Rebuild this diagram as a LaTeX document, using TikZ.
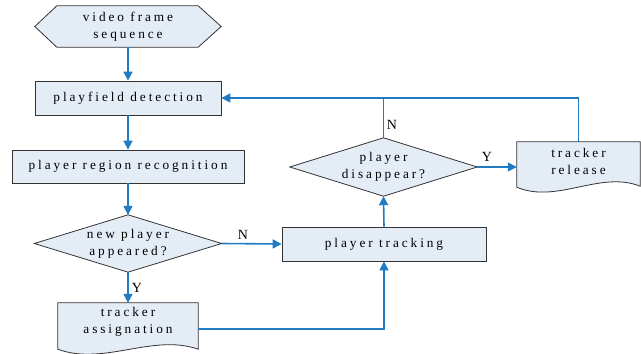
\documentclass[tikz,border=0pt]{standalone}
\usepackage{fontspec}
\setmainfont{Liberation Serif}
\newfontfamily\spaced[LetterSpace=22]{Liberation Serif}
\usetikzlibrary{arrows.meta,backgrounds,calc}
\definecolor{boxfill}{HTML}{E4ECF6}
\definecolor{flowblue}{HTML}{1E7BC4}
\definecolor{edgegray}{HTML}{333333}

\begin{document}
\begin{tikzpicture}[x=1pt,y=-1pt,
  txt/.style={font=\spaced\fontsize{13.3}{17}\selectfont, align=center, inner sep=0pt},
  shapeline/.style={draw=edgegray, fill=boxfill, line width=0.8pt},
  flow/.style={draw=flowblue, line width=1.6pt, -{Triangle[length=9pt,width=9pt]}},
  plainflow/.style={draw=flowblue, line width=1.6pt},
  lbl/.style={font=\fontsize{14}{16}\selectfont, inner sep=0pt}]
\useasboundingbox (0,0) rectangle (641,354);

% process boxes
\node[txt, shapeline, minimum width=186pt, minimum height=34pt] (pd) at (128,98) {playfield detection};
\node[txt, shapeline, minimum width=232pt, minimum height=33pt] (prr) at (128,166.5) {player region recognition};
\node[txt, shapeline, minimum width=204pt, minimum height=34pt] (pt) at (384,244) {player tracking};

% start (hexagon), decisions (diamonds), documents (wavy base): text only here
\node[txt, minimum width=186pt, minimum height=41pt] (seq) at (128,26.5) {video frame\\sequence};
\node[txt, minimum width=187pt, minimum height=57pt] (np) at (128,243.5) {new player\\appeared?};
\node[txt, minimum width=187pt, minimum height=58pt] (pdis) at (383.5,167) {player\\disappear?};
\node[txt, minimum width=123pt, minimum height=38pt] (tr) at (578.5,161) {tracker\\release};
\node[txt, minimum width=140pt, minimum height=38pt] (ta) at (128,322) {tracker\\assignation};

% outlines of the special shapes, behind their text
\begin{scope}[on background layer]
  \filldraw[shapeline] (seq.west) -- ($(seq.north west)+(22,0)$) -- ($(seq.north east)+(-23,0)$)
    -- (seq.east) -- ($(seq.south east)+(-23,0)$) -- ($(seq.south west)+(22,0)$) -- cycle;
  \filldraw[shapeline] (np.west) -- (np.north) -- (np.east) -- (np.south) -- cycle;
  \filldraw[shapeline] (pdis.west) -- (pdis.north) -- (pdis.east) -- (pdis.south) -- cycle;
  \filldraw[shapeline] (tr.north west) -- (tr.north east) -- ($(tr.south east)+(0,6)$)
    .. controls ($(tr.south east)+(-40,-10)$) and ($(tr.south west)+(40,24)$) .. ($(tr.south west)+(0,7)$) -- cycle;
  \filldraw[shapeline] (ta.north west) -- (ta.north east) -- ($(ta.south east)+(0,8)$)
    .. controls ($(ta.south east)+(-45.5,-8)$) and ($(ta.south west)+(45.5,25)$) .. ($(ta.south west)+(0,8)$) -- cycle;
\end{scope}

% connectors
\draw[flow] (seq.south) -- (pd.north);
\draw[flow] (pd.south) -- (prr.north);
\draw[flow] (prr.south) -- (np.north);
\draw[flow] (np.south) -- (ta.north);
\draw[flow] (np.east) -- (pt.west);
\draw[flow] ($(ta.east)+(0,7)$) -| (pt.south);
\draw[flow] (pt.north) -- (pdis.south);
\draw[flow] (pdis.east) -- (pdis.east -| tr.west);
\draw[flow] (tr.north) |- (pd.east);
\draw[plainflow] (pdis.north) -- (pdis.north |- pd.east);

% branch labels
\node[lbl] (lnp) at (243,235) {N};
\node[lbl] (lyp) at (137,287.5) {Y};
\node[lbl] (lnd) at (392,125) {N};
\node[lbl] (lyd) at (487,157) {Y};
\end{tikzpicture}
\end{document}
